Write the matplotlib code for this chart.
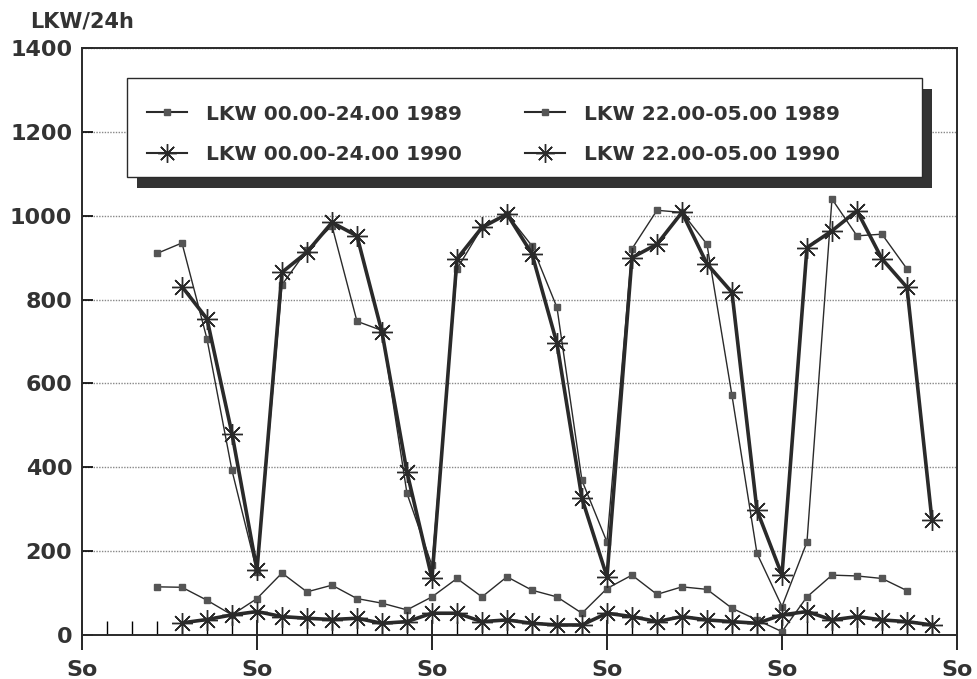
"""
LKW-Verkehr pro Tag, Wochenganglinie 1989 vs. 1990 (Tag und Nacht).
"""

import matplotlib
matplotlib.use("Agg")
import matplotlib.pyplot as plt
from matplotlib.patches import Rectangle

plt.rcParams["font.family"] = ["DejaVu Sans"]
plt.rcParams["font.weight"] = "bold"

# --- data (days since first Sunday) ---
days_day89 = list(range(3, 34))
day89 = [910, 935, 706, 392, 150, 835, 918, 976, 748, 726, 337, 165,
         873, 972, 1004, 928, 781, 368, 221, 921, 1013, 1008, 932, 571,
         194, 67, 221, 1040, 952, 956, 873]

days_day90 = list(range(4, 35))
day90 = [831, 754, 480, 154, 865, 913, 984, 952, 722, 388, 134,
         897, 972, 1004, 909, 695, 325, 138, 900, 932, 1008, 885, 817,
         297, 142, 924, 964, 1012, 897, 829, 273]

days_night89 = list(range(3, 34))
night89 = [114, 113, 82, 47, 86, 147, 102, 118, 86, 75, 59, 90,
           134, 90, 138, 106, 90, 51, 110, 142, 96, 114, 108, 63,
           35, 7, 90, 142, 140, 134, 105]

days_night90 = list(range(4, 35))
night90 = [28, 36, 47, 55, 43, 39, 36, 39, 27, 31, 51,
           51, 31, 35, 27, 23, 23, 51, 43, 31, 43, 35, 31,
           27, 47, 55, 35, 43, 35, 31, 23]

labels = ["LKW 00.00-24.00 1989", "LKW 22.00-05.00 1989",
          "LKW 00.00-24.00 1990", "LKW 22.00-05.00 1990"]
sunday_ticks = [0, 7, 14, 21, 28, 35]
y_ticks = [0, 200, 400, 600, 800, 1000, 1200, 1400]

ink = "#2a2a2a"
star = (8, 2, 0)

fig = plt.figure(figsize=(9.77, 6.79), dpi=100)
ax = fig.add_axes([0.0839, 0.0654, 0.8956, 0.8636])

thin = dict(color=ink, lw=1.0, marker="s", ms=4.5, mfc="#555555", mec="#555555")
thick = dict(color=ink, lw=2.6, marker=star, ms=15, mew=1.0, mec=ink)

h1, = ax.plot(days_day89, day89, **thin)
h2, = ax.plot(days_night89, night89, **thin)
h3, = ax.plot(days_day90, day90, **thick)
h4, = ax.plot(days_night90, night90, **thick)

ax.set_xlim(0, 35)
ax.set_ylim(0, 1400)
ax.set_xticks(sunday_ticks)
ax.set_xticklabels(["So"] * len(sunday_ticks))
ax.set_xticks(range(1, 35), minor=True)
ax.set_yticks(y_ticks)
ax.tick_params(axis="x", which="major", direction="inout", length=22, width=1.2,
               labelsize=16, pad=7)
ax.tick_params(axis="x", which="minor", direction="in", length=10, width=1.0)
ax.tick_params(axis="y", direction="in", length=8, width=1.2, labelsize=16, pad=7)
for lab in ax.get_xticklabels() + ax.get_yticklabels():
    lab.set_fontweight("bold")
    lab.set_color("#333333")

ax.yaxis.grid(True, linestyle=(0, (1, 1)), color="#888888", lw=1.0)
ax.set_axisbelow(True)
for s in ax.spines.values():
    s.set_linewidth(1.4)
    s.set_color(ink)

fig.text(0.031, 0.968, "LKW/24h", fontsize=15, fontweight="bold",
         va="center", color="#333333")

# legend box with drop shadow
x0, y0, w, h = 0.0514, 0.780, 0.9086, 0.1688
ax.add_patch(Rectangle((x0 + 0.0114, y0 - 0.0188), w, h, transform=ax.transAxes,
                       facecolor="#333333", edgecolor="none", zorder=5))
ax.add_patch(Rectangle((x0, y0), w, h, transform=ax.transAxes,
                       facecolor="white", edgecolor=ink, lw=1.0, zorder=6))

leg = ax.legend([h1, h3, h2, h4], [labels[0], labels[2], labels[1], labels[3]],
                ncol=2, loc="upper left", bbox_to_anchor=(0.0743, 0.904),
                borderaxespad=0, borderpad=0, frameon=False,
                prop=dict(size=14.5, weight="bold"), handlelength=2.0,
                handletextpad=0.95, columnspacing=3.1, labelspacing=1.05)
leg.set_zorder(7)
for t in leg.get_texts():
    t.set_color("#333333")
for lh in leg.legend_handles:
    lh.set_markersize(lh.get_markersize() * 0.9)
    lh.set_linewidth(1.5)

fig.savefig("out.png", dpi=100)
